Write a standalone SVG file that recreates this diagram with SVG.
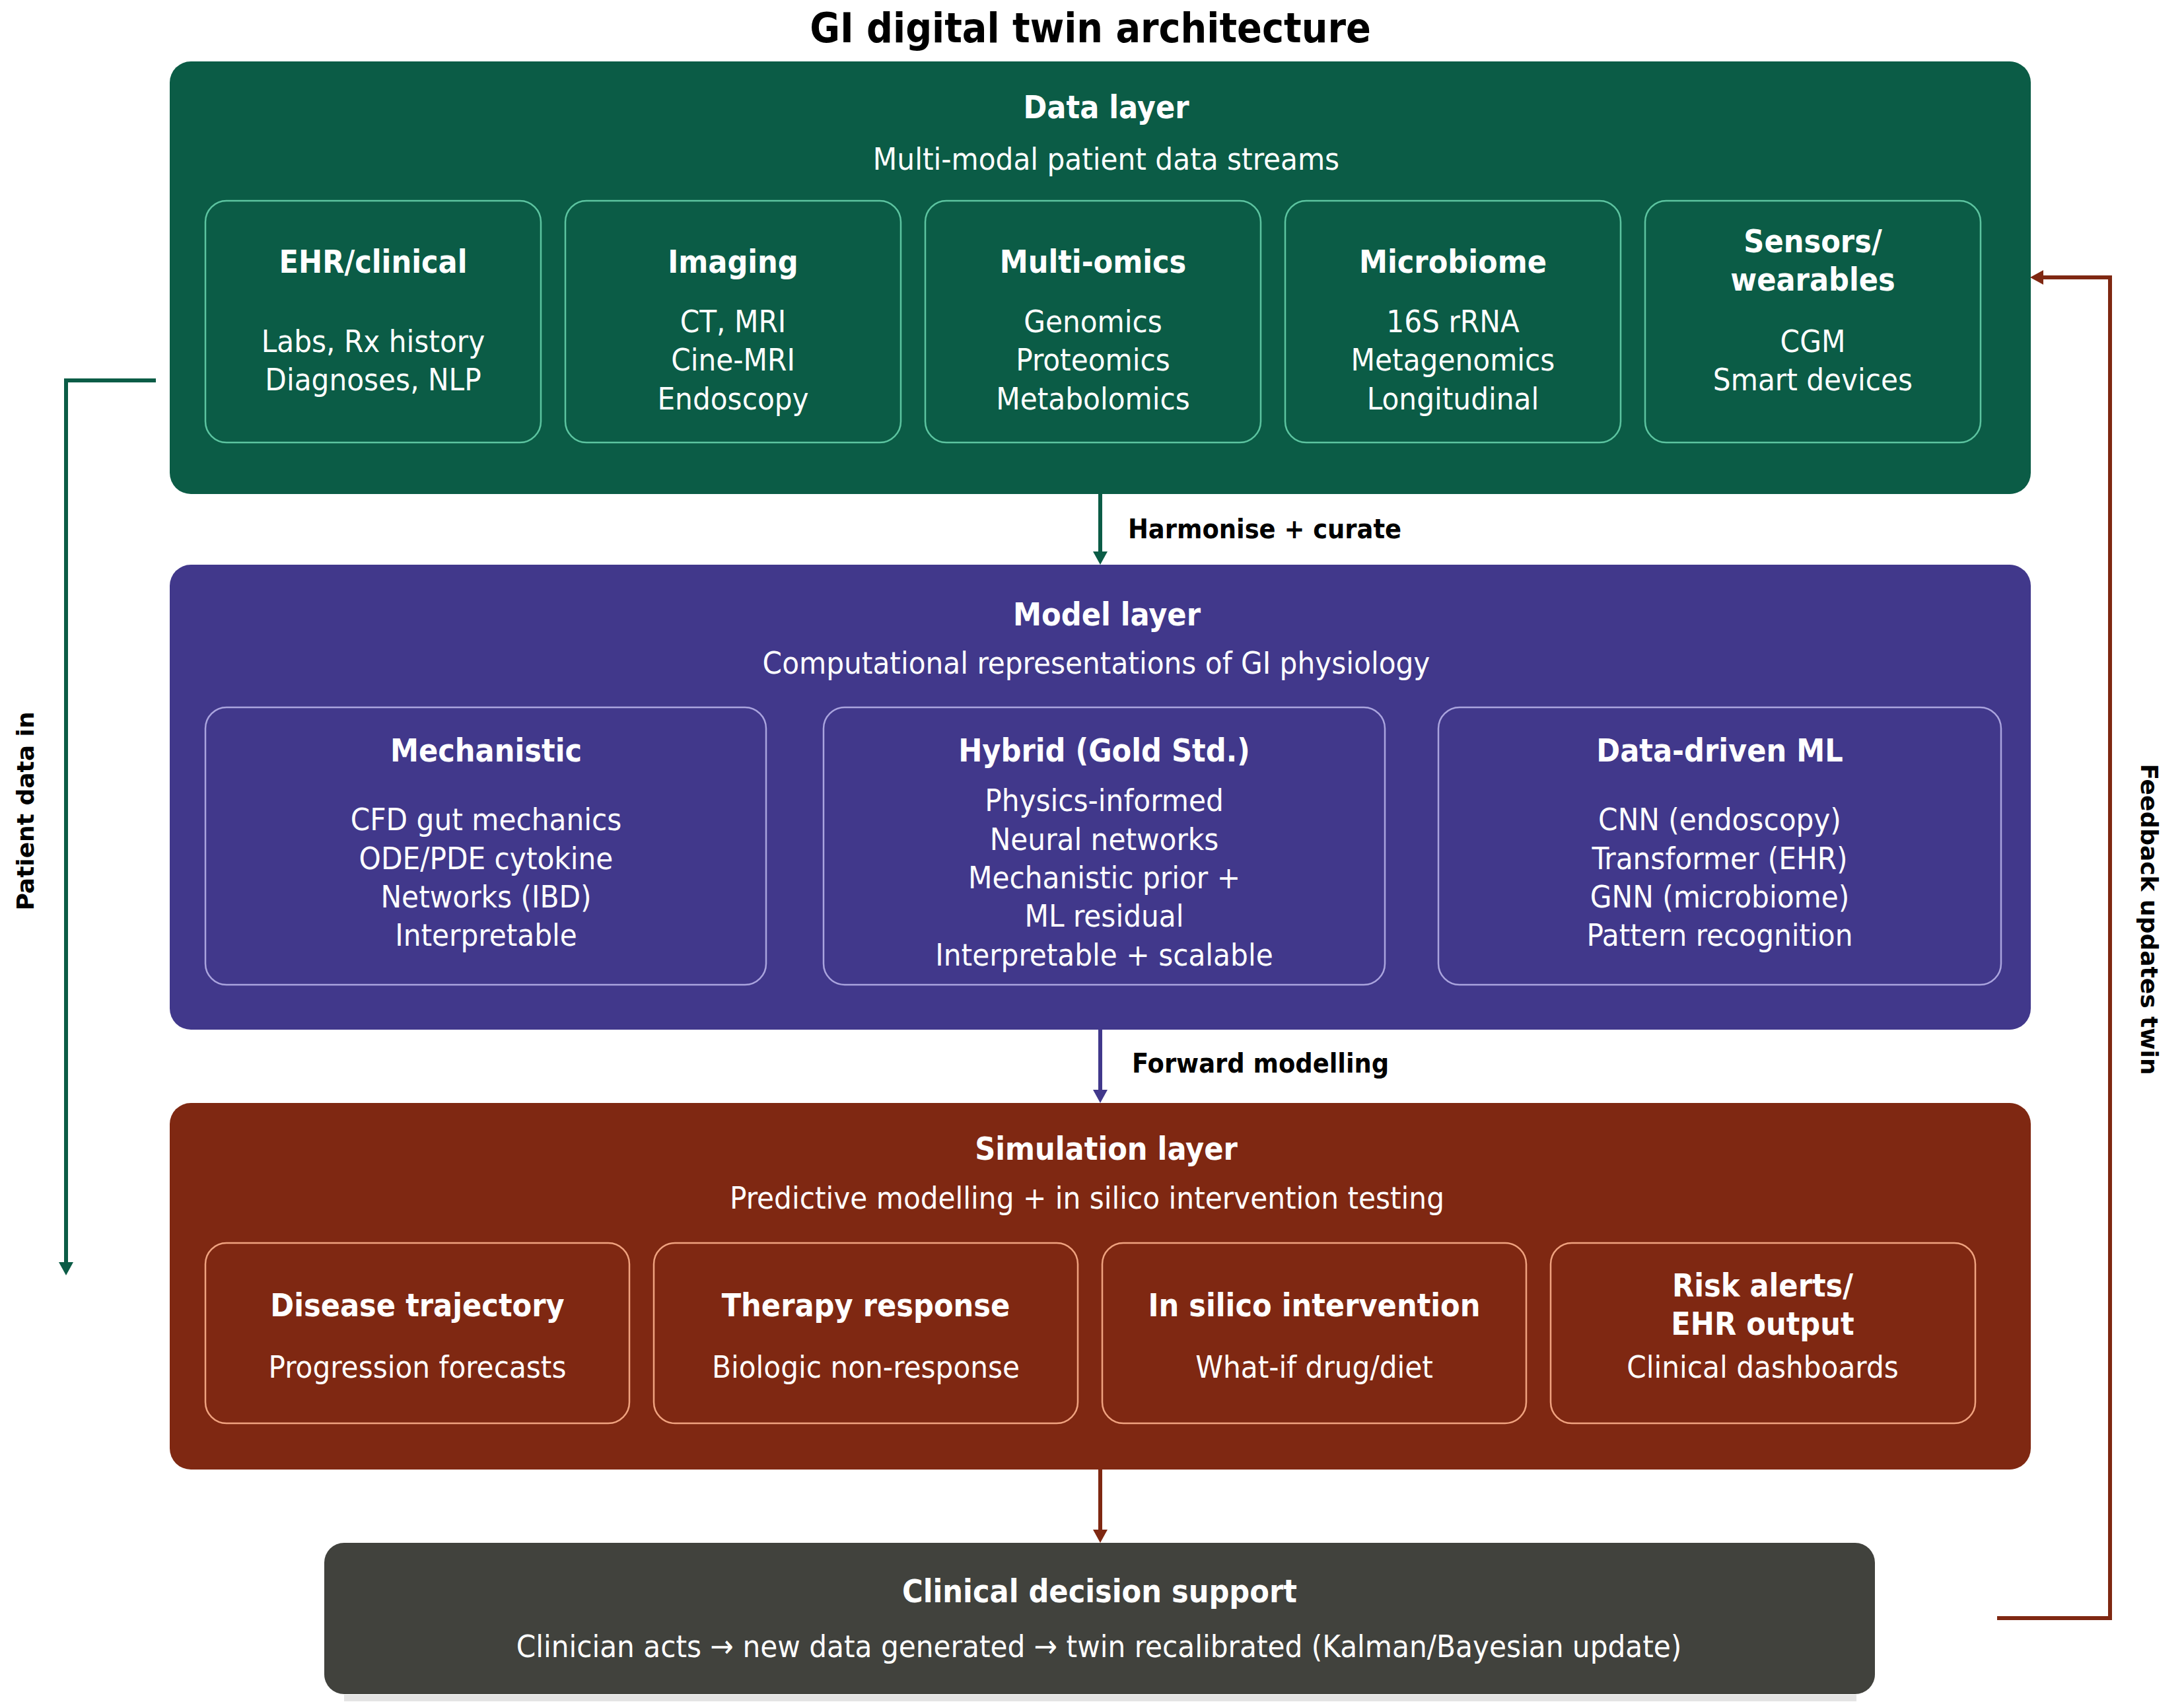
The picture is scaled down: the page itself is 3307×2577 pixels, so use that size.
<svg xmlns="http://www.w3.org/2000/svg" width="3307" height="2577" viewBox="0 0 3307 2577">
<defs>
<style>
text{font-family:'DejaVu Sans Condensed','DejaVu Sans',sans-serif;font-stretch:condensed;fill:#ffffff;text-anchor:middle}
.t{font-size:62px;fill:#000000;font-weight:bold}
.h{font-size:48px;font-weight:bold}
.s{font-size:47px}
.c{font-size:47px}
.ct{font-size:48px;font-weight:bold}
.el{font-size:41px;font-weight:bold;fill:#000000;text-anchor:start}
.side{font-family:'DejaVu Sans',sans-serif;font-stretch:normal;font-size:36px;font-weight:bold;fill:#000000}
.gcard{fill:none;stroke:#5cc4a0;stroke-width:2.5}
.pcard{fill:none;stroke:#aaa4de;stroke-width:2.5}
.rcard{fill:none;stroke:#f0a27f;stroke-width:2.5}
.conn{fill:none;stroke-width:6}
</style>
<marker id="ag" markerUnits="userSpaceOnUse" markerWidth="22" markerHeight="22" refX="5" refY="11" orient="auto"><path d="M0,0 L20,11 L0,22 z" fill="#0b5c46"/></marker>
<marker id="ap" markerUnits="userSpaceOnUse" markerWidth="22" markerHeight="22" refX="5" refY="11" orient="auto"><path d="M0,0 L20,11 L0,22 z" fill="#41388b"/></marker>
<marker id="ar" markerUnits="userSpaceOnUse" markerWidth="22" markerHeight="22" refX="5" refY="11" orient="auto"><path d="M0,0 L20,11 L0,22 z" fill="#7f2812"/></marker>
</defs>
<rect width="3307" height="2577" fill="#ffffff"/>
<text class="t" x="1651" y="64">GI digital twin architecture</text>

<g id="data-layer">
<rect x="257" y="93" width="2818" height="655" rx="32" fill="#0b5c46"/>
<text class="h" x="1675" y="179">Data layer</text>
<text class="s" x="1675" y="257">Multi-modal patient data streams</text>
</g>
<g id="ehr">
<rect class="gcard" x="311" y="304" width="508" height="366" rx="32"/>
<text class="ct" x="565" y="413">EHR/clinical</text>
<text class="c" x="565" y="533">Labs, Rx history</text>
<text class="c" x="565" y="591">Diagnoses, NLP</text>
</g>
<g id="imaging">
<rect class="gcard" x="856" y="304" width="508" height="366" rx="32"/>
<text class="ct" x="1110" y="413">Imaging</text>
<text class="c" x="1110" y="503">CT, MRI</text>
<text class="c" x="1110" y="561">Cine-MRI</text>
<text class="c" x="1110" y="620">Endoscopy</text>
</g>
<g id="multiomics">
<rect class="gcard" x="1401" y="304" width="508" height="366" rx="32"/>
<text class="ct" x="1655" y="413">Multi-omics</text>
<text class="c" x="1655" y="503">Genomics</text>
<text class="c" x="1655" y="561">Proteomics</text>
<text class="c" x="1655" y="620">Metabolomics</text>
</g>
<g id="microbiome">
<rect class="gcard" x="1946" y="304" width="508" height="366" rx="32"/>
<text class="ct" x="2200" y="413">Microbiome</text>
<text class="c" x="2200" y="503">16S rRNA</text>
<text class="c" x="2200" y="561">Metagenomics</text>
<text class="c" x="2200" y="620">Longitudinal</text>
</g>
<g id="sensors">
<rect class="gcard" x="2491" y="304" width="508" height="366" rx="32"/>
<text class="ct" x="2745" y="382">Sensors/</text>
<text class="ct" x="2745" y="440">wearables</text>
<text class="c" x="2745" y="533">CGM</text>
<text class="c" x="2745" y="591">Smart devices</text>
</g>

<g id="model-layer">
<rect x="257" y="855" width="2818" height="704" rx="32" fill="#41388b"/>
<text class="h" x="1676" y="947">Model layer</text>
<text class="s" x="1660" y="1020">Computational representations of GI physiology</text>
</g>
<g id="mechanistic">
<rect class="pcard" x="311" y="1071" width="849" height="420" rx="32"/>
<text class="ct" x="736" y="1153">Mechanistic</text>
<text class="c" x="736" y="1257">CFD gut mechanics</text>
<text class="c" x="736" y="1316">ODE/PDE cytokine</text>
<text class="c" x="736" y="1374">Networks (IBD)</text>
<text class="c" x="736" y="1432">Interpretable</text>
</g>
<g id="hybrid">
<rect class="pcard" x="1247" y="1071" width="850" height="420" rx="32"/>
<text class="ct" x="1672" y="1153">Hybrid (Gold Std.)</text>
<text class="c" x="1672" y="1228">Physics-informed</text>
<text class="c" x="1672" y="1287">Neural networks</text>
<text class="c" x="1672" y="1345">Mechanistic prior +</text>
<text class="c" x="1672" y="1403">ML residual</text>
<text class="c" x="1672" y="1462">Interpretable + scalable</text>
</g>
<g id="data-driven">
<rect class="pcard" x="2178" y="1071" width="852" height="420" rx="32"/>
<text class="ct" x="2604" y="1153">Data-driven ML</text>
<text class="c" x="2604" y="1257">CNN (endoscopy)</text>
<text class="c" x="2604" y="1316">Transformer (EHR)</text>
<text class="c" x="2604" y="1374">GNN (microbiome)</text>
<text class="c" x="2604" y="1432">Pattern recognition</text>
</g>

<g id="simulation-layer">
<rect x="257" y="1670" width="2818" height="555" rx="32" fill="#7f2812"/>
<text class="h" x="1675" y="1756">Simulation layer</text>
<text class="s" x="1646" y="1830">Predictive modelling + in silico intervention testing</text>
</g>
<g id="disease">
<rect class="rcard" x="311" y="1882" width="642" height="273" rx="32"/>
<text class="ct" x="632" y="1993">Disease trajectory</text>
<text class="c" x="632" y="2086">Progression forecasts</text>
</g>
<g id="therapy">
<rect class="rcard" x="990" y="1882" width="642" height="273" rx="32"/>
<text class="ct" x="1311" y="1993">Therapy response</text>
<text class="c" x="1311" y="2086">Biologic non-response</text>
</g>
<g id="insilico">
<rect class="rcard" x="1669" y="1882" width="642" height="273" rx="32"/>
<text class="ct" x="1990" y="1993">In silico intervention</text>
<text class="c" x="1990" y="2086">What-if drug/diet</text>
</g>
<g id="risk">
<rect class="rcard" x="2348" y="1882" width="643" height="273" rx="32"/>
<text class="ct" x="2669" y="1963">Risk alerts/</text>
<text class="ct" x="2669" y="2021">EHR output</text>
<text class="c" x="2669" y="2086">Clinical dashboards</text>
</g>

<g id="clinical-decision-support">
<rect x="521" y="2566" width="2290" height="10" fill="#e4e4e4"/>
<rect x="491" y="2336" width="2348" height="229" rx="30" fill="#41423d"/>
<text class="h" x="1665" y="2426">Clinical decision support</text>
<text class="s" x="1664" y="2509">Clinician acts → new data generated → twin recalibrated (Kalman/Bayesian update)</text>
</g>

<g id="connectors">
<path class="conn" d="M1666,748 V840" stroke="#0b5c46" marker-end="url(#ag)"/>
<text class="el" x="1708" y="815">Harmonise + curate</text>
<path class="conn" d="M1666,1559 V1655" stroke="#41388b" marker-end="url(#ap)"/>
<text class="el" x="1714" y="1624">Forward modelling</text>
<path class="conn" d="M1666,2225 V2321" stroke="#7f2812" marker-end="url(#ar)"/>
<path class="conn" d="M236,576 H100 V1916" stroke="#0b5c46" marker-end="url(#ag)"/>
<text class="side" transform="translate(38,1228) rotate(-90)" dominant-baseline="central">Patient data in</text>
<path class="conn" d="M3024,2450 H3195 V420 H3089" stroke="#7f2812" marker-end="url(#ar)"/>
<text class="side" transform="translate(3254,1392) rotate(90)" dominant-baseline="central">Feedback updates twin</text>
</g>
</svg>
